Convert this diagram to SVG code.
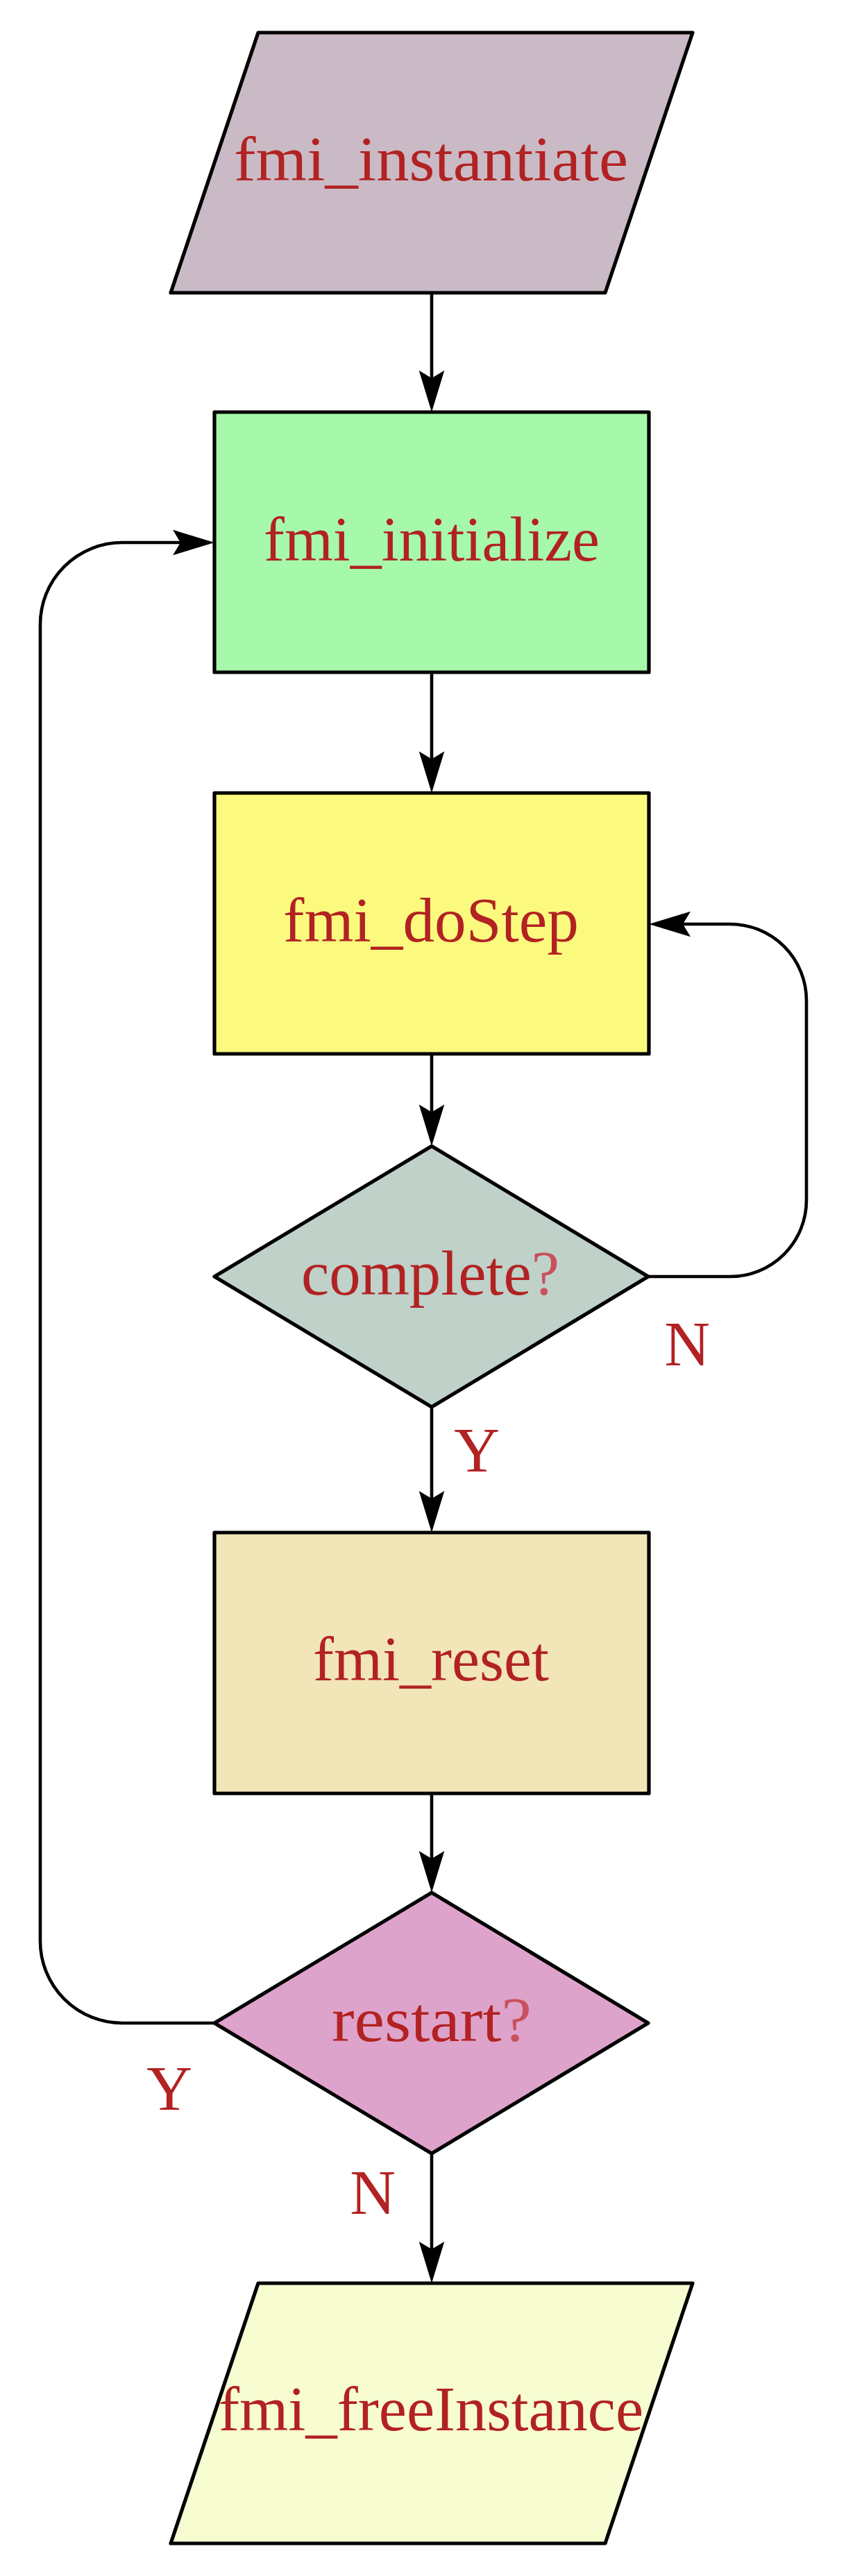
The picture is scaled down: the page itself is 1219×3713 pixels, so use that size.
<svg xmlns="http://www.w3.org/2000/svg" width="1219" height="3713" viewBox="0 0 1219 3713">
  <style>
    .shape { stroke: #000; stroke-width: 5.2; stroke-linejoin: round; }
    .conn { fill: none; stroke: #000; stroke-width: 4.6; }
    .label { font-family: "Liberation Serif", "Times New Roman", serif; font-size: 91px; fill: #B22222; text-anchor: middle; }
    .q { fill: #C9505C; }
  </style>
  <defs>
    <marker id="arrow" markerUnits="userSpaceOnUse" viewBox="-62 -20 64 40" markerWidth="64" markerHeight="40" refX="-47" refY="0" orient="auto">
      <path d="M0,0 L-60,-18.3 L-49,0 L-60,18.3 Z" fill="#000"/>
    </marker>
  </defs>
  <rect width="1219" height="3713" fill="#fff"/>

  <g id="connectors">
    <path class="conn" d="M622,422 V547" marker-end="url(#arrow)"/>
    <path class="conn" d="M622,969 V1096" marker-end="url(#arrow)"/>
    <path class="conn" d="M622,1519 V1605" marker-end="url(#arrow)"/>
    <path class="conn" d="M622,2028 V2162" marker-end="url(#arrow)"/>
    <path class="conn" d="M622,2585 V2681" marker-end="url(#arrow)"/>
    <path class="conn" d="M622,3104 V3244" marker-end="url(#arrow)"/>
    <path class="conn" d="M933,1840 H1052 A110,110 0 0 0 1162,1730 V1442 A110,110 0 0 0 1052,1332 H982" marker-end="url(#arrow)"/>
    <path class="conn" d="M308,2916 H176 A118,118 0 0 1 58,2798 V900 A118,118 0 0 1 176,782 H262" marker-end="url(#arrow)"/>
  </g>

  <g id="fmi_instantiate">
    <polygon class="shape" points="372,47 998,47 872,422 246,422" fill="#CABAC5"/>
    <text class="label" x="621" y="260" textLength="568" lengthAdjust="spacingAndGlyphs">fmi_instantiate</text>
  </g>

  <g id="fmi_initialize">
    <rect class="shape" x="309" y="594" width="626" height="375" fill="#A6F9AA"/>
    <text class="label" x="622" y="808" textLength="484" lengthAdjust="spacingAndGlyphs">fmi_initialize</text>
  </g>

  <g id="fmi_doStep">
    <rect class="shape" x="309" y="1143" width="626" height="376" fill="#FBFA7E"/>
    <text class="label" x="621" y="1357" textLength="426" lengthAdjust="spacingAndGlyphs">fmi_doStep</text>
  </g>

  <g id="complete">
    <polygon class="shape" points="622,1652 934,1840 622,2028 309,1840" fill="#BFD1C9"/>
    <text class="label" x="620" y="1866" textLength="372" lengthAdjust="spacingAndGlyphs">complete<tspan class="q">?</tspan></text>
  </g>

  <g id="fmi_reset">
    <rect class="shape" x="309" y="2209" width="626" height="376" fill="#F2E5B8"/>
    <text class="label" x="621" y="2422" textLength="340" lengthAdjust="spacingAndGlyphs">fmi_reset</text>
  </g>

  <g id="restart">
    <polygon class="shape" points="622,2728 934,2916 622,3104 309,2916" fill="#DEA3CB"/>
    <text class="label" x="622" y="2942" textLength="288" lengthAdjust="spacingAndGlyphs">restart<tspan class="q">?</tspan></text>
  </g>

  <g id="fmi_freeInstance">
    <polygon class="shape" points="372,3291 998,3291 872,3666 246,3666" fill="#F7FDD0"/>
    <text class="label" x="621" y="3503" textLength="612" lengthAdjust="spacingAndGlyphs">fmi_freeInstance</text>
  </g>

  <g id="edge-labels">
    <text class="label" x="990" y="1968">N</text>
    <text class="label" x="687" y="2121">Y</text>
    <text class="label" x="244" y="3041">Y</text>
    <text class="label" x="537" y="3191">N</text>
  </g>
</svg>
